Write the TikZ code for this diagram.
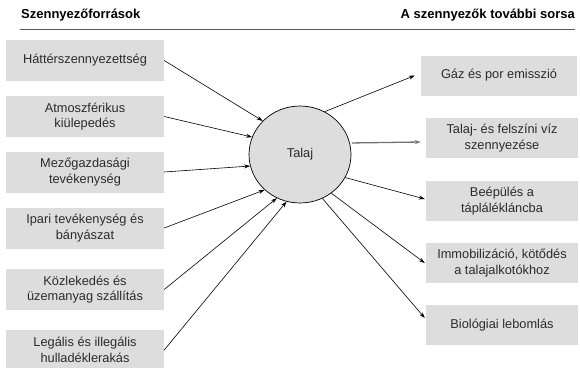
\documentclass[tikz,border=0pt]{standalone}
\usepackage{fontspec}
\setmainfont{Liberation Sans}
\usetikzlibrary{shapes.geometric,arrows.meta}
\definecolor{boxgray}{HTML}{DDDDDD}
\definecolor{txtgray}{HTML}{2B2B2B}
\tikzset{
  srcbox/.style={fill=boxgray, minimum width=158pt, minimum height=41pt, inner sep=0pt,
    align=center, text=txtgray, font=\fontsize{12.8}{15.5}\selectfont},
  fatebox/.style={srcbox, minimum width=152pt, minimum height=40pt},
  arr/.style={-{Stealth[length=6pt,width=4pt]}, line width=0.6pt},
  head/.style={font=\fontsize{13}{15}\selectfont\bfseries, inner sep=0pt}
}
\begin{document}
\begin{tikzpicture}[x=1pt, y=-1pt]
        \useasboundingbox (0,0) rectangle (580,367);
        % headers
        \node[head, anchor=west] (hleft) at (21,15.5) {Szennyezőforrások};
        \node[head, anchor=east] (hright) at (575,15.5) {A szennyezők további sorsa};
        \draw[gray!70!black, line width=1pt] (20,29.5) -- (575,29.5);
        % soil
        \node[ellipse, draw, fill=boxgray, line width=0.7pt, minimum width=102pt, minimum height=97pt,
          inner sep=0pt, text=txtgray, font=\fontsize{12.8}{15.5}\selectfont] (talaj) at (300,154.5) {Talaj};
        % sources (left)
        \foreach \i/\yc/\txt in {1/60.5/{Háttérszennyezettség},
                                 2/116.5/{Atmoszférikus\\kiülepedés},
                                 3/172/{Mezőgazdasági\\tevékenység},
                                 4/228/{Ipari tevékenység és\\bányászat},
                                 5/289.5/{Közlekedés  és\\üzemanyag  szállítás},
                                 6/350/{Legális és illegális\\hulladéklerakás}} {
            \node[srcbox] (l\i) at (85,\yc) {\txt};
        }
        % fates (right)
        \node[fatebox, minimum width=156pt] (r1) at (499,75.5) {Gáz és por emisszió};
        \foreach \i/\yc/\txt in {2/138/{Talaj- és felszíni  víz\\szennyezése},
                                 3/201/{Beépülés a\\táplálékláncba},
                                 4/263/{Immobilizáció,  kötődés\\a talajalkotókhoz},
                                 5/325/{Biológiai lebomlás}} {
            \node[fatebox] (r\i) at (502,\yc) {\txt};
        }
        % arrows into the soil
        \foreach \i/\a in {1/138, 2/160, 3/193, 4/225, 5/242, 6/254} {
            \draw[arr] (l\i.east) -- (talaj.\a);
        }
        % arrows out of the soil
        \draw[arr] (talaj.60) -- ([xshift=-6pt]r1.west);
        \draw[arr, gray!90!black, line width=1.3pt, shorten <=2pt] (talaj.13) -- ([xshift=-5pt, yshift=-4pt]r2.west);
        \draw[arr] (talaj.333) -- ([xshift=-1pt, yshift=2pt]r3.west);
        \draw[arr] (talaj.309) -- ([xshift=-1pt]r4.west);
        \draw[arr] (talaj.297) -- ([xshift=-1pt, yshift=7pt]r5.west);
\end{tikzpicture}
\end{document}
